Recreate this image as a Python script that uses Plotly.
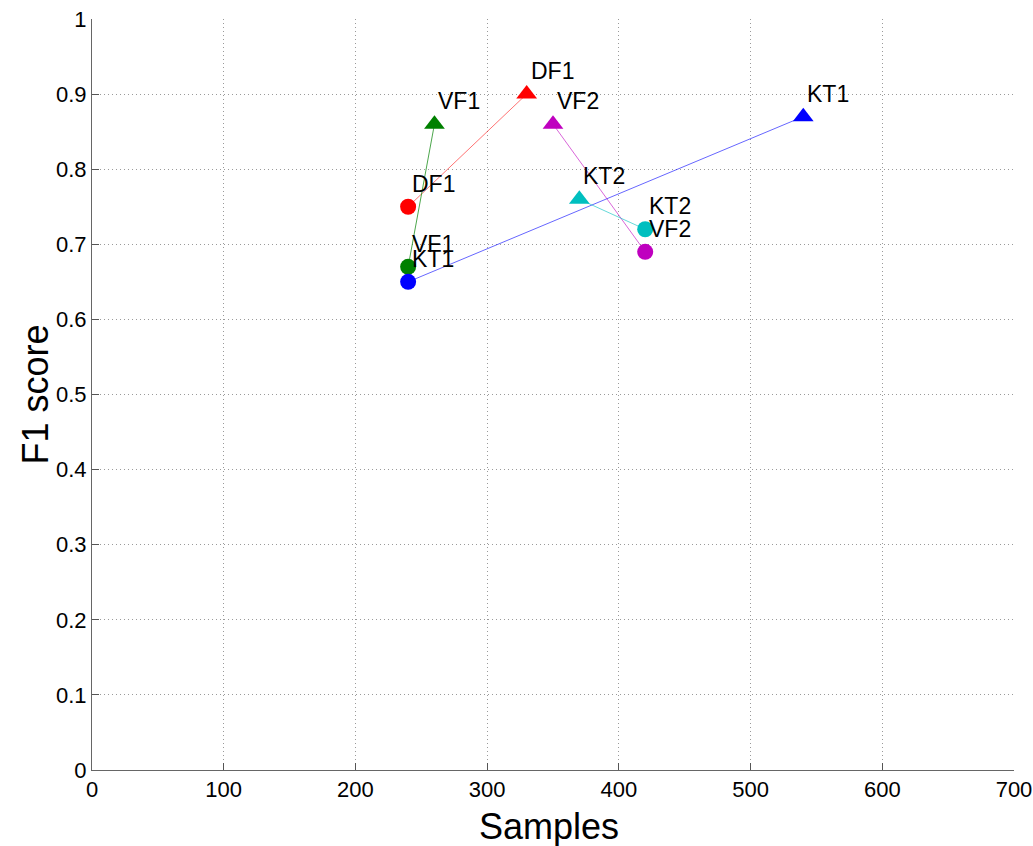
import plotly.graph_objects as go

methods = ["DF1", "VF1", "KT1", "VF2", "KT2"]
colors = ["#ff0000", "#008000", "#0000ff", "#bf00bf", "#00bfbf"]
line_colors = ["rgba(255,0,0,0.55)", "rgba(0,128,0,0.7)", "rgba(0,0,255,0.6)",
               "rgba(191,0,191,0.6)", "rgba(0,191,191,0.6)"]
circle_x = [240, 240, 240, 420, 420]
circle_y = [0.75, 0.67, 0.65, 0.69, 0.72]
tri_x = [330, 260, 540, 350, 370]
tri_y = [0.90, 0.86, 0.87, 0.86, 0.76]

xticks = [0, 100, 200, 300, 400, 500, 600, 700]
yticks = [0, 0.1, 0.2, 0.3, 0.4, 0.5, 0.6, 0.7, 0.8, 0.9, 1]
ytick_text = ["0", "0.1", "0.2", "0.3", "0.4", "0.5", "0.6", "0.7", "0.8", "0.9", "1"]
x_title = "Samples"
y_title = "F1 score"

FONT = "Liberation Sans, Arial, Helvetica, sans-serif"

fig = go.Figure()
for i, m in enumerate(methods):
    fig.add_trace(go.Scatter(x=[circle_x[i], tri_x[i]], y=[circle_y[i], tri_y[i]],
                             mode="lines", line=dict(color=line_colors[i], width=1),
                             showlegend=False, hoverinfo="skip"))
for i, m in enumerate(methods):
    fig.add_trace(go.Scatter(x=[circle_x[i]], y=[circle_y[i]], mode="markers",
                             marker=dict(symbol="circle", size=16, color=colors[i]),
                             showlegend=False))
    fig.add_trace(go.Scatter(x=[tri_x[i]], y=[tri_y[i]], mode="markers",
                             marker=dict(symbol="triangle-up", size=18, color=colors[i]),
                             showlegend=False))

annotations = []
for i, m in enumerate(methods):
    for (px, py) in [(circle_x[i], circle_y[i]), (tri_x[i], tri_y[i])]:
        annotations.append(dict(x=px, y=py, text=m, showarrow=False,
                                xanchor="left", yanchor="middle",
                                xshift=2, yshift=23,
                                font=dict(family=FONT, size=23, color="black")))

annotations.append(dict(x=0.5, y=0, xref="paper", yref="paper", text=x_title,
                        showarrow=False, xanchor="center", yanchor="middle",
                        xshift=-4, yshift=-56, font=dict(family=FONT, size=36)))
annotations.append(dict(x=0, y=0.5, xref="paper", yref="paper", text=y_title,
                        showarrow=False, xanchor="center", yanchor="middle",
                        textangle=-90, xshift=-57, font=dict(family=FONT, size=36)))

grid_style = dict(showgrid=True, gridcolor="#9a9a9a", griddash="1px,3px", gridwidth=1)

fig.update_layout(
    width=1033, height=846,
    margin=dict(l=92, r=19, t=19, b=76),
    plot_bgcolor="white", paper_bgcolor="white",
    font=dict(family=FONT, color="black"),
    annotations=annotations,
    xaxis=dict(range=[0, 700], tickvals=xticks, ticks="inside", ticklen=7,
               tickcolor="#555", showline=True, linecolor="#666", linewidth=1,
               zeroline=False, tickfont=dict(size=22), automargin=False,
               ticklabeloverflow="allow", **grid_style),
    yaxis=dict(range=[0, 1], tickvals=yticks, ticktext=ytick_text, ticks="inside",
               ticklen=7, tickcolor="#555", showline=True, linecolor="#666", linewidth=1,
               zeroline=False, tickfont=dict(size=22), automargin=False,
               ticklabeloverflow="allow", **grid_style),
)

fig.write_html("out.html", config={"displayModeBar": False},
               post_script="document.body.style.margin='0';document.body.style.overflow='hidden';")
